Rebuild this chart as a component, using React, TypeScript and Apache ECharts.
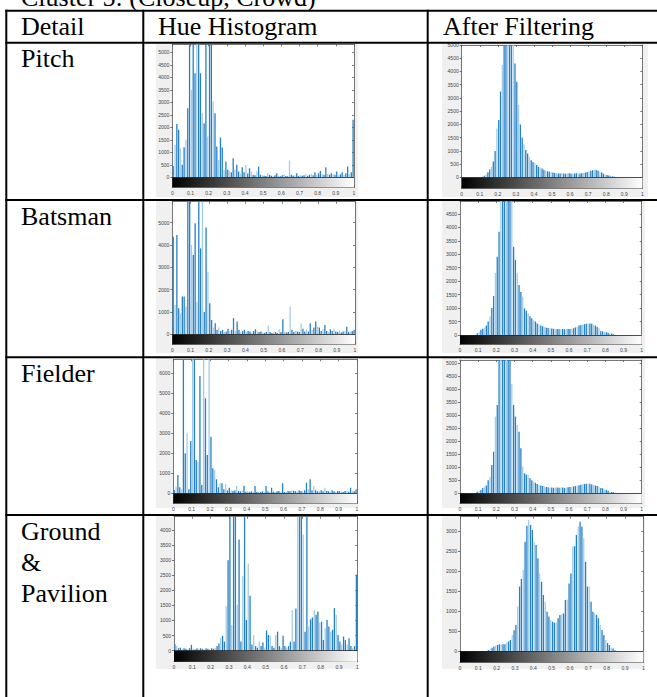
import React, { useEffect, useRef } from "react";
import * as echarts from "echarts";

const TITLE = "Cluster 5: (Closeup, Crowd)";
const HEADERS = ["Detail", "Hue Histogram", "After Filtering"];
const ROW_LABELS = [["Pitch"], ["Batsman"], ["Fielder"], ["Ground", "&", "Pavilion"]];
const X_TICKS = [0, 0.1, 0.2, 0.3, 0.4, 0.5, 0.6, 0.7, 0.8, 0.9, 1];
const BIN_WIDTH = 0.01;

// Hue histograms (raw), 100 bins of width 0.01
const pitchHue = [
  450, 1300, 2130, 1900, 1160, 500, 1200, 1500, 2760, 5320,
  3500, 5320, 4160, 5320, 5320, 4160, 2560, 2160, 5320, 1630,
  5320, 5320, 3030, 2560, 1230, 690, 1590, 1190, 290, 630,
  300, 250, 200, 760, 300, 500, 230, 150, 400, 200,
  500, 150, 360, 230, 100, 80, 230, 430, 100, 80,
  60, 50, 160, 100, 60, 40, 80, 160, 60, 40,
  80, 120, 50, 40, 670, 100, 60, 80, 160, 50,
  100, 60, 80, 120, 60, 100, 140, 80, 200, 100,
  160, 250, 120, 100, 400, 140, 100, 160, 120, 100,
  230, 80, 120, 200, 100, 160, 430, 120, 200, 2300,
];
const batsmanHue = [
  4370, 1310, 4450, 1160, 940, 1690, 1690, 1240, 5940, 5940,
  4000, 3550, 4970, 1460, 5940, 3850, 5940, 1000, 4780, 2800,
  1390, 640, 300, 490, 200, 300, 150, 200, 100, 120,
  250, 150, 200, 720, 150, 570, 200, 100, 150, 200,
  100, 150, 120, 80, 150, 230, 150, 100, 120, 80,
  60, 100, 390, 100, 60, 80, 100, 60, 230, 100,
  670, 120, 80, 100, 1240, 200, 100, 150, 120, 100,
  490, 250, 120, 230, 120, 490, 200, 300, 570, 340,
  300, 150, 230, 420, 150, 100, 230, 150, 250, 120,
  100, 150, 80, 120, 150, 340, 100, 120, 150, 200,
];
const fielderHue = [
  170, 330, 920, 300, 200, 6700, 2000, 3000, 200, 2620,
  6700, 6700, 1670, 1580, 5870, 420, 6700, 4750, 1920, 6700,
  2830, 1250, 1170, 700, 300, 500, 500, 200, 450, 150,
  280, 150, 120, 150, 370, 120, 100, 150, 380, 80,
  120, 60, 100, 80, 370, 60, 80, 60, 100, 80,
  370, 100, 60, 280, 80, 60, 100, 120, 80, 500,
  60, 80, 120, 100, 150, 120, 100, 80, 150, 120,
  100, 150, 530, 200, 700, 150, 370, 150, 100, 120,
  150, 100, 280, 120, 100, 80, 150, 100, 80, 120,
  100, 80, 60, 120, 100, 80, 280, 120, 100, 200,
];
const groundHue = [
  210, 150, 80, 100, 60, 80, 60, 40, 80, 190,
  60, 40, 80, 60, 80, 60, 40, 80, 60, 40,
  80, 60, 100, 150, 240, 430, 490, 300, 1470, 3000,
  4444, 850, 4444, 4444, 1520, 3690, 300, 2470, 4444, 1020,
  2890, 1820, 200, 520, 150, 100, 300, 150, 270, 100,
  670, 520, 490, 150, 100, 520, 630, 150, 100, 490,
  150, 100, 150, 300, 1350, 300, 1400, 4444, 4444, 4444,
  3850, 630, 4444, 800, 1040, 1100, 1350, 1190, 1300, 930,
  960, 350, 740, 1020, 800, 630, 690, 1410, 1190, 520,
  300, 200, 470, 350, 200, 410, 150, 100, 150, 2520,
];

// Hue histograms after filtering
const pitchFiltered = [
  0, 0, 0, 0, 0, 0, 0, 0, 0, 0,
  10, 20, 60, 120, 190, 300, 400, 600, 1000, 1850,
  2170, 3240, 4240, 5000, 5000, 5000, 5000, 5000, 5000, 4300,
  3615, 2730, 2000, 1510, 1250, 1030, 900, 780, 650, 580,
  530, 470, 400, 360, 340, 290, 250, 230, 210, 190,
  180, 170, 160, 150, 150, 160, 150, 140, 150, 160,
  150, 140, 150, 160, 150, 150, 160, 170, 180, 200,
  230, 250, 270, 280, 280, 250, 210, 180, 140, 100,
  90, 70, 60, 40, 25, 10, 0, 0, 0, 0,
  0, 0, 0, 0, 0, 0, 0, 0, 0, 0,
];
const batsmanFiltered = [
  0, 0, 0, 0, 0, 0, 0, 0, 0, 60,
  120, 190, 230, 280, 350, 500, 700, 1000, 1450, 2300,
  2910, 3840, 4980, 4980, 4980, 4980, 4980, 4980, 4980, 3280,
  2790, 2300, 1860, 1600, 1430, 990, 900, 800, 700, 620,
  540, 500, 430, 400, 350, 320, 300, 270, 260, 250,
  240, 230, 220, 220, 210, 220, 220, 210, 220, 220,
  220, 230, 250, 280, 300, 350, 370, 390, 400, 420,
  430, 430, 420, 380, 350, 300, 250, 150, 130, 120,
  100, 80, 60, 50, 25, 10, 0, 0, 0, 0,
  0, 0, 0, 0, 0, 0, 0, 0, 0, 0,
];
const fielderFiltered = [
  0, 0, 0, 0, 0, 0, 0, 0, 0, 60,
  100, 130, 200, 260, 300, 500, 640, 1090, 1600, 2950,
  3400, 5127, 5127, 5127, 5127, 5127, 5127, 5127, 4200, 3400,
  2950, 2630, 2370, 1730, 1030, 770, 720, 700, 580, 500,
  450, 400, 360, 330, 300, 280, 260, 240, 230, 220,
  220, 210, 220, 220, 210, 220, 220, 210, 220, 230,
  240, 250, 260, 280, 300, 310, 330, 350, 360, 370,
  380, 370, 340, 320, 300, 280, 250, 200, 190, 150,
  130, 100, 60, 50, 40, 20, 0, 0, 0, 0,
  0, 0, 0, 0, 0, 0, 0, 0, 0, 0,
];
const groundFiltered = [
  0, 0, 0, 0, 0, 0, 0, 0, 0, 0,
  0, 0, 0, 0, 0, 25, 50, 80, 110, 130,
  150, 170, 165, 170, 170, 210, 240, 275, 400, 520,
  650, 1110, 1610, 1800, 2025, 2730, 3130, 3280, 3150, 3025,
  2730, 2650, 2320, 1940, 1730, 1400, 1230, 980, 860, 775,
  730, 710, 710, 820, 900, 920, 940, 1275, 1290, 1690,
  1940, 2610, 2620, 2900, 3110, 3230, 3110, 2820, 2230, 1610,
  1610, 1230, 980, 940, 900, 820, 650, 525, 400, 275,
  200, 150, 80, 65, 20, 0, 0, 0, 0, 0,
  0, 0, 0, 0, 0, 0, 0, 0, 0, 0,
];

// y tick labels per panel
const yTicksPitchHue = [0, 500, 1000, 1500, 2000, 2500, 3000, 3500, 4000, 4500, 5000];
const yTicksBatsmanHue = [0, 1000, 2000, 3000, 4000, 5000];
const yTicksFielderHue = [0, 1000, 2000, 3000, 4000, 5000, 6000];
const yTicksGroundHue = [0, 500, 1000, 1500, 2000, 2500, 3000, 3500, 4000];
const yTicksPitchFiltered = [0, 500, 1000, 1500, 2000, 2500, 3000, 3500, 4000, 4500, 5000];
const yTicksBatsmanFiltered = [0, 500, 1000, 1500, 2000, 2500, 3000, 3500, 4000, 4500];
const yTicksFielderFiltered = [0, 500, 1000, 1500, 2000, 2500, 3000, 3500, 4000, 4500, 5000];
const yTicksGroundFiltered = [0, 500, 1000, 1500, 2000, 2500, 3000];

type Panel = {
  data: number[];
  yTicks: number[];
  yMin: number;
  yMax: number;
  box: [number, number, number, number];
};

const panels: Panel[] = [
  { data: pitchHue, yTicks: yTicksPitchHue, yMin: -400, yMax: 5320, box: [172.3, 44.3, 181.7, 143] },
  { data: batsmanHue, yTicks: yTicksBatsmanHue, yMin: -450, yMax: 5940, box: [172.3, 201.7, 182.7, 142.6] },
  { data: fielderHue, yTicks: yTicksFielderHue, yMin: -500, yMax: 6700, box: [173.3, 359.3, 183.7, 144] },
  { data: groundHue, yTicks: yTicksGroundHue, yMin: -367, yMax: 4444, box: [174, 516.7, 183.3, 145] },
  { data: pitchFiltered, yTicks: yTicksPitchFiltered, yMin: -412, yMax: 5000, box: [461.7, 45, 180.6, 143.3] },
  { data: batsmanFiltered, yTicks: yTicksBatsmanFiltered, yMin: -347, yMax: 4980, box: [460, 201, 181.7, 143.3] },
  { data: fielderFiltered, yTicks: yTicksFielderFiltered, yMin: -385, yMax: 5127, box: [460, 360, 181.7, 143.3] },
  { data: groundFiltered, yTicks: yTicksGroundFiltered, yMin: -283, yMax: 3358, box: [460, 516.7, 183.3, 145.6] },
];

const FIG_BG: [number, number, number, number][] = [
  [156, 44, 202, 153],
  [156, 201, 202, 152],
  [156, 358, 202, 150],
  [156, 516, 202, 153],
  [442, 44, 206, 153],
  [442, 201, 203, 152],
  [442, 358, 203, 150],
  [442, 516, 203, 153],
];

const DARK = "#2680c4";
const LIGHT = "#a3cdec";
const AXIS_COLOR = "#555";
const LABEL_COLOR = "#444";
const SERIF = "Liberation Serif";
const SANS = "Liberation Sans";

function buildOption() {
  const grid: any[] = [];
  const xAxis: any[] = [];
  const yAxis: any[] = [];
  const series: any[] = [];
  const lineStyle = { color: AXIS_COLOR, width: 0.8 };

  panels.forEach((p, i) => {
    grid.push({
      left: p.box[0],
      top: p.box[1],
      width: p.box[2],
      height: p.box[3],
      show: true,
      backgroundColor: "#ffffff",
      borderWidth: 0,
    });
    xAxis.push({
      type: "value",
      gridIndex: i,
      min: 0,
      max: 1,
      position: "bottom",
      axisLine: { show: true, onZero: false, lineStyle },
      axisTick: { show: true, inside: true, length: 2, customValues: X_TICKS, lineStyle },
      axisLabel: {
        customValues: X_TICKS,
        formatter: (v: number) => String(Math.round(v * 10) / 10),
        fontSize: 5,
        color: LABEL_COLOR,
        margin: 3,
        fontFamily: SANS,
      },
      splitLine: { show: false },
    });
    xAxis.push({
      type: "value",
      gridIndex: i,
      min: 0,
      max: 1,
      position: "top",
      axisLine: { show: true, onZero: false, lineStyle },
      axisTick: { show: true, inside: true, length: 2, customValues: X_TICKS, lineStyle },
      axisLabel: { show: false },
      splitLine: { show: false },
    });
    yAxis.push({
      type: "value",
      gridIndex: i,
      min: p.yMin,
      max: p.yMax,
      position: "left",
      axisLine: { show: true, onZero: false, lineStyle },
      axisTick: { show: true, inside: false, length: 2, customValues: p.yTicks, lineStyle },
      axisLabel: {
        customValues: p.yTicks,
        formatter: (v: number) => String(Math.round(v)),
        fontSize: 5,
        color: LABEL_COLOR,
        margin: 3,
        fontFamily: SANS,
      },
      splitLine: { show: false },
    });
    yAxis.push({
      type: "value",
      gridIndex: i,
      min: p.yMin,
      max: p.yMax,
      position: "right",
      axisLine: { show: true, onZero: false, lineStyle },
      axisTick: { show: true, inside: true, length: 2, customValues: p.yTicks, lineStyle },
      axisLabel: { show: false },
      splitLine: { show: false },
    });
    series.push({
      type: "bar",
      xAxisIndex: 2 * i,
      yAxisIndex: 2 * i,
      barWidth: 1.3,
      clip: true,
      silent: true,
      data: p.data.map((v, k) => [(k + 0.5) * BIN_WIDTH, v]),
      itemStyle: {
        color: (params: any) => (params.dataIndex % 3 === 1 ? LIGHT : DARK),
      },
      markArea: {
        silent: true,
        itemStyle: {
          opacity: 1,
          color: new echarts.graphic.LinearGradient(0, 0, 1, 0, [
            { offset: 0, color: "#000000" },
            { offset: 1, color: "#ffffff" },
          ]),
        },
        data: [[{ xAxis: 0, yAxis: p.yMin }, { xAxis: 1, yAxis: 0 }]],
      },
      markLine: {
        silent: true,
        symbol: ["none", "none"],
        label: { show: false },
        lineStyle: { color: "#222", width: 0.8, type: "solid" },
        data: [{ yAxis: 0 }],
      },
    });
  });

  const graphic: any[] = [];
  FIG_BG.forEach((r) => {
    graphic.push({
      type: "rect",
      z: -10,
      silent: true,
      shape: { x: r[0], y: r[1], width: r[2], height: r[3] },
      style: { fill: "#f0f0f0" },
    });
  });

  const vLines = [6.3, 143.3, 427.7];
  const hLines = [10.7, 42.7, 200, 357.3, 515];
  vLines.forEach((x) => {
    graphic.push({
      type: "line",
      z: 100,
      silent: true,
      shape: { x1: x, y1: 9.7, x2: x, y2: 700 },
      style: { stroke: "#000", lineWidth: 2 },
    });
  });
  hLines.forEach((y) => {
    graphic.push({
      type: "line",
      z: 100,
      silent: true,
      shape: { x1: 5.3, y1: y, x2: 660, y2: y },
      style: { stroke: "#000", lineWidth: 2 },
    });
  });

  const textStyle = (text: string, x: number, y: number) => ({
    type: "text",
    z: 100,
    silent: true,
    x,
    y,
    style: {
      text,
      fill: "#000",
      fontFamily: SERIF,
      fontSize: 26,
      align: "left",
      verticalAlign: "middle",
    },
  });

  graphic.push(textStyle(TITLE, 21, -3));
  const headerX = [21, 158, 443];
  HEADERS.forEach((h, i) => graphic.push(textStyle(h, headerX[i], 26)));
  const rowTops = [42.7, 200, 357.3, 515];
  ROW_LABELS.forEach((lines, r) => {
    lines.forEach((t, k) => {
      graphic.push(textStyle(t, 21, rowTops[r] + 16 + k * 31));
    });
  });

  return {
    animation: false,
    backgroundColor: "#ffffff",
    grid,
    xAxis,
    yAxis,
    series,
    graphic,
  };
}

export default function App() {
  const ref = useRef<HTMLDivElement>(null);
  useEffect(() => {
    if (!ref.current) return;
    const chart = echarts.init(ref.current, undefined, { renderer: "svg" });
    chart.setOption(buildOption() as any);
    return () => chart.dispose();
  }, []);
  return (
    <div
      ref={ref}
      style={{ position: "absolute", left: 0, top: 0, width: 657, height: 697 }}
    />
  );
}
